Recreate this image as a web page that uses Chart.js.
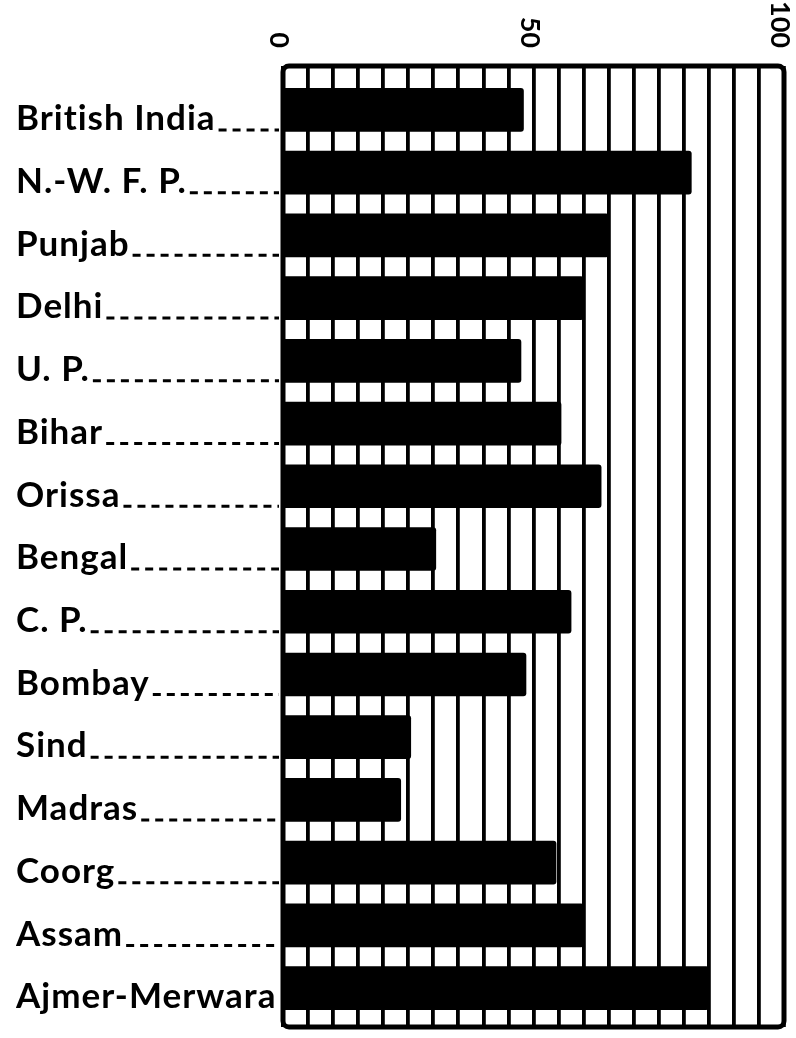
<!DOCTYPE html>
<html>
<head>
<meta charset="utf-8">
<script src="https://cdn.jsdelivr.net/npm/chart.js@4.4.1/dist/chart.umd.min.js"></script>
<style>
  html, body { margin: 0; padding: 0; background: #fff; }
  #wrap { width: 796px; height: 1038px; }
</style>
</head>
<body>
<div id="wrap"><canvas id="chart"></canvas></div>
<script>
const provinces = ['British India', 'N.-W. F. P.', 'Punjab', 'Delhi', 'U. P.', 'Bihar', 'Orissa', 'Bengal',
    'C. P.', 'Bombay', 'Sind', 'Madras', 'Coorg', 'Assam', 'Ajmer-Merwara'];
const values = [48, 81.5, 65, 60, 47.5, 55.5, 63.5, 30.5, 57.5, 48.5, 25.5, 23.5, 54.5, 60, 85];
const axisLabels = [0, 50, 100];

const labelFont = '700 35px Lato';
const labelSpacing = '1px';
const labelOffset = 9;

// letter spacing for the hand-lettered look
const spacing = {
    id: 'spacing',
    beforeDraw(chart) { chart.ctx.letterSpacing = labelSpacing; },
    afterDatasetsDraw(chart) { chart.ctx.letterSpacing = '0px'; }
};

// dotted leaders from each label to the frame, frame and rotated axis numbers
const extras = {
    id: 'extras',
    afterDraw(chart) {
        const ctx = chart.ctx;
        const area = chart.chartArea;
        const yScale = chart.scales.y;
        const xScale = chart.scales.x;

        ctx.save();
        ctx.font = labelFont;
        ctx.letterSpacing = labelSpacing;
        ctx.strokeStyle = '#000';
        ctx.lineWidth = 3;
        ctx.setLineDash([8, 6]);
        provinces.forEach((name, i) => {
            const y = yScale.getPixelForValue(i) + labelOffset + 11;
            const start = yScale.left + ctx.measureText(name).width + 3;
            if (start > area.left - 8) return;
            ctx.beginPath();
            ctx.moveTo(start, y);
            ctx.lineTo(area.left - 4, y);
            ctx.stroke();
        });
        ctx.restore();

        ctx.save();
        ctx.strokeStyle = '#000';
        ctx.lineWidth = 5;
        ctx.beginPath();
        ctx.roundRect(area.left, area.top, area.right - area.left, area.bottom - area.top, 6);
        ctx.stroke();
        ctx.restore();

        ctx.save();
        ctx.letterSpacing = '0px';
        ctx.fillStyle = '#000';
        ctx.font = '700 27px Lato';
        ctx.textAlign = 'right';
        ctx.textBaseline = 'middle';
        axisLabels.forEach(v => {
            ctx.save();
            ctx.translate(xScale.getPixelForValue(v) - 4, area.top - 18);
            ctx.rotate(Math.PI / 2);
            ctx.fillText(String(v), 0, 0);
            ctx.restore();
        });
        ctx.restore();
    }
};

new Chart(document.getElementById('chart'), {
    type: 'bar',
    data: {
        datasets: [{
            data: values.map((v, i) => ({ x: v, y: i })),
            backgroundColor: '#000',
            borderWidth: 0,
            borderRadius: 3,
            borderSkipped: 'start',
            barThickness: 43
        }]
    },
    options: {
        indexAxis: 'y',
        responsive: true,
        maintainAspectRatio: false,
        animation: false,
        layout: { padding: { top: 66, right: 12, bottom: 11, left: 16 } },
        plugins: { legend: { display: false }, tooltip: { enabled: false } },
        scales: {
            x: {
                type: 'linear',
                position: 'top',
                min: 0,
                max: 100,
                ticks: { display: false, stepSize: 5 },
                grid: { color: '#000', lineWidth: 3.8, drawTicks: false },
                border: { display: false },
                afterFit: s => { s.height = 0; s.paddingLeft = 0; s.paddingRight = 0; }
            },
            y: {
                type: 'linear',
                reverse: true,
                offset: false,
                min: -0.7,
                max: 14.62,
                ticks: {
                    stepSize: 1,
                    includeBounds: false,
                    autoSkip: false,
                    crossAlign: 'far',
                    labelOffset: labelOffset,
                    color: '#000',
                    font: { family: 'Lato', size: 35, weight: '700' },
                    callback: v => Number.isInteger(v) && provinces[v] ? provinces[v] : ''
                },
                grid: { display: false, drawTicks: false, offset: false },
                border: { display: false },
                afterFit: s => { s.width = 283 - 16; s.paddingTop = 0; s.paddingBottom = 0; }
            }
        }
    },
    plugins: [spacing, extras]
});
</script>
</body>
</html>
